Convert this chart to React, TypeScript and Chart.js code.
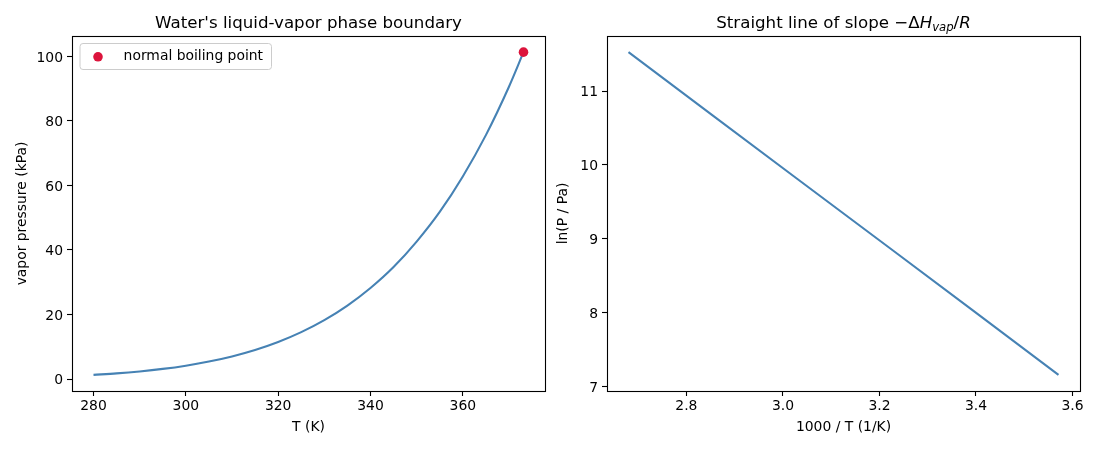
import React, { useEffect, useRef } from "react";
import { Chart, registerables } from "chart.js";

Chart.register(...registerables);

// ---- data ----
const temperaturesK = [280, 285, 290, 295, 300, 305, 310, 315, 320, 325, 330, 335, 340, 345, 350, 355, 360, 365, 370, 373.15];
const vaporPressureKPa = [1.29, 1.75, 2.36, 3.14, 4.14, 5.41, 7.0, 8.99, 11.47, 14.52, 18.24, 22.75, 28.2, 34.7, 42.6, 51.8, 62.8, 75.6, 90.6, 101.3];
const boilingPointT = [373.15];
const boilingPointKPa = [101.325];
const inverseT = [2.68, 2.857, 3.03, 3.226, 3.39, 3.571];
const lnPressure = [11.526, 10.658, 9.811, 8.854, 8.051, 7.162];

const leftXTicks = [280, 300, 320, 340, 360];
const leftYTicks = [0, 20, 40, 60, 80, 100];
const rightXTicks = [2.8, 3.0, 3.2, 3.4, 3.6];
const rightYTicks = [7, 8, 9, 10, 11];

const leftTitle = "Water's liquid-vapor phase boundary";
const legendLabel = "normal boiling point";
const FONT = "DejaVu Sans";
const LINE = "#4682b4";
const MARK = "#dc143c";

function limits(values: number[]) {
  const mn = Math.min(...values);
  const mx = Math.max(...values);
  const m = (mx - mn) * 0.05;
  return [mn - m, mx + m];
}

function axis(
  lim: number[],
  ticks: number[],
  fmt: (v: number) => string,
  title: string,
  size: number,
  isX: boolean,
  titlePad: any
) {
  return {
    type: "linear" as const,
    min: lim[0],
    max: lim[1],
    afterBuildTicks: (s: any) => {
      s.ticks = ticks.map((v) => ({ value: v }));
    },
    afterFit: (s: any) => {
      if (isX) s.height = size;
      else s.width = size;
    },
    grid: {
      drawOnChartArea: false,
      drawTicks: true,
      tickLength: 5,
      tickColor: "#000",
      tickWidth: 1.1,
    },
    border: { display: false },
    ticks: {
      color: "#000",
      font: { family: FONT, size: 13.9 },
      padding: isX ? 2.5 : 4,
      labelOffset: isX ? 0 : 1.5,
      autoSkip: false,
      maxRotation: 0,
      callback: (v: any) => fmt(Number(v)),
    },
    title: {
      display: true,
      text: title,
      color: "#000",
      font: { family: FONT, size: 13.9 },
      padding: titlePad,
    },
  };
}

const framePlugin = {
  id: "frame",
  afterDraw(chart: any) {
    const { ctx, chartArea: a } = chart;
    ctx.save();
    ctx.strokeStyle = "#000";
    ctx.lineWidth = 1.1;
    ctx.strokeRect(Math.round(a.left) + 0.5, Math.round(a.top) + 0.5, Math.round(a.right - a.left), Math.round(a.bottom - a.top));
    ctx.restore();
  },
};

function simpleTitle(text: string) {
  return {
    id: "ptitle",
    afterDraw(chart: any) {
      const { ctx, chartArea: a } = chart;
      ctx.save();
      ctx.fillStyle = "#000";
      ctx.font = `16.67px "${FONT}"`;
      ctx.textAlign = "center";
      ctx.textBaseline = "alphabetic";
      ctx.fillText(text, (a.left + a.right) / 2, 27.5);
      ctx.restore();
    },
  };
}

const mathTitle = {
  id: "mtitle",
  afterDraw(chart: any) {
    const { ctx, chartArea: a } = chart;
    const base = 16.67;
    const segs = [
      { t: "Straight line of slope ", it: false, sub: false },
      { t: "\u2212", it: false, sub: false },
      { t: "\u0394", it: false, sub: false },
      { t: "H", it: true, sub: false },
      { t: "vap", it: true, sub: true },
      { t: "/", it: false, sub: false },
      { t: "R", it: true, sub: false },
    ];
    ctx.save();
    ctx.fillStyle = "#000";
    ctx.textBaseline = "alphabetic";
    ctx.textAlign = "left";
    const fontOf = (s: any) => `${s.it ? "oblique " : ""}${s.sub ? base * 0.7 : base}px "${FONT}"`;
    let total = 0;
    const widths = segs.map((s) => {
      ctx.font = fontOf(s);
      const w = ctx.measureText(s.t).width;
      total += w;
      return w;
    });
    let x = (a.left + a.right) / 2 - total / 2;
    segs.forEach((s, i) => {
      ctx.font = fontOf(s);
      ctx.fillText(s.t, x, 27.5 + (s.sub ? 3 : 0));
      x += widths[i];
    });
    ctx.restore();
  },
};

const legendPlugin = {
  id: "plegend",
  afterDraw(chart: any) {
    const { ctx, chartArea: a } = chart;
    const ds = chart.data.datasets[0];
    const x0 = a.left + 8;
    const y0 = a.top + 7.5;
    const w = 191.5;
    const h = 26;
    ctx.save();
    ctx.beginPath();
    ctx.roundRect(x0, y0, w, h, 3);
    ctx.fillStyle = "rgba(255,255,255,0.8)";
    ctx.fill();
    ctx.strokeStyle = "#cccccc";
    ctx.lineWidth = 1;
    ctx.stroke();
    ctx.beginPath();
    ctx.arc(x0 + 18, y0 + 13.3, 4.8, 0, Math.PI * 2);
    ctx.fillStyle = ds.backgroundColor;
    ctx.fill();
    ctx.fillStyle = "#000";
    ctx.font = `13.9px "${FONT}"`;
    ctx.textBaseline = "middle";
    ctx.textAlign = "left";
    ctx.fillText(ds.label, x0 + 43.6, y0 + 12.8);
    ctx.restore();
  },
};

export default function App() {
  const leftRef = useRef<HTMLCanvasElement>(null);
  const rightRef = useRef<HTMLCanvasElement>(null);

  useEffect(() => {
    const lx = limits(temperaturesK);
    const ly = limits(vaporPressureKPa.concat(boilingPointKPa));
    const rx = limits(inverseT);
    const ry = limits(lnPressure);

    const left = new Chart(leftRef.current!, {
      type: "scatter",
      data: {
        datasets: [
          {
            label: legendLabel,
            data: boilingPointT.map((t, i) => ({ x: t, y: boilingPointKPa[i] })),
            backgroundColor: MARK,
            borderWidth: 0,
            pointRadius: 4.8,
            showLine: false,
            order: 0,
            clip: false as any,
          },
          {
            label: "vapor pressure",
            data: temperaturesK.map((t, i) => ({ x: t, y: vaporPressureKPa[i] })),
            borderColor: LINE,
            borderWidth: 2.08,
            pointRadius: 0,
            showLine: true,
            cubicInterpolationMode: "monotone",
            order: 1,
          },
        ],
      },
      options: {
        animation: false,
        responsive: false,
        events: [],
        layout: { padding: { left: 0, top: 36, right: 5, bottom: 0 } },
        plugins: { legend: { display: false }, tooltip: { enabled: false }, title: { display: false } },
        scales: {
          x: axis(lx, leftXTicks, (v) => String(v), "T (K)", 59, true, { top: 0, bottom: 14.7 }) as any,
          y: axis(ly, leftYTicks, (v) => String(v), "vapor pressure (kPa)", 72, false, { top: 13.7, bottom: 0 }) as any,
        },
      },
      plugins: [framePlugin, simpleTitle(leftTitle), legendPlugin],
    });

    const right = new Chart(rightRef.current!, {
      type: "scatter",
      data: {
        datasets: [
          {
            label: "ln P",
            data: inverseT.map((x, i) => ({ x, y: lnPressure[i] })),
            borderColor: LINE,
            borderWidth: 2.08,
            pointRadius: 0,
            showLine: true,
            tension: 0,
          },
        ],
      },
      options: {
        animation: false,
        responsive: false,
        events: [],
        layout: { padding: { left: 0, top: 36, right: 20, bottom: 0 } },
        plugins: { legend: { display: false }, tooltip: { enabled: false }, title: { display: false } },
        scales: {
          x: axis(rx, rightXTicks, (v) => v.toFixed(1), "1000 / T (1/K)", 59, true, { top: 0, bottom: 14.7 }) as any,
          y: axis(ry, rightYTicks, (v) => String(Math.round(v)), "ln(P / Pa)", 57, false, { top: 4.7, bottom: 0 }) as any,
        },
      },
      plugins: [framePlugin, mathTitle],
    });

    return () => {
      left.destroy();
      right.destroy();
    };
  }, []);

  return (
    <div style={{ position: "fixed", left: 0, top: 0, width: 1100, height: 450, background: "#fff", overflow: "hidden" }}>
      <canvas ref={leftRef} width={550} height={450} style={{ position: "absolute", left: 0, top: 0, width: 550, height: 450 }} />
      <canvas ref={rightRef} width={550} height={450} style={{ position: "absolute", left: 550, top: 0, width: 550, height: 450 }} />
    </div>
  );
}
